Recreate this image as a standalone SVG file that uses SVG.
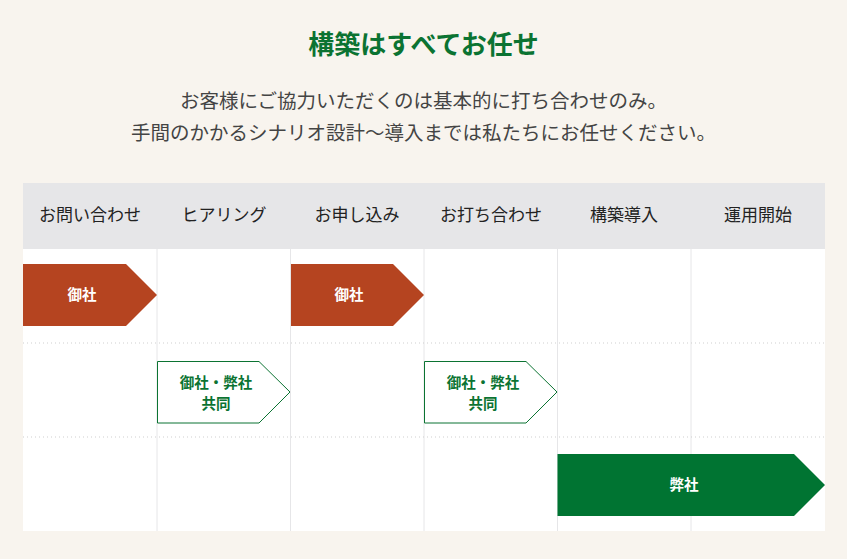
<svg xmlns="http://www.w3.org/2000/svg" width="847" height="559" viewBox="0 0 847 559">
<style>
.t{font-family:"Noto Sans CJK JP","Noto Sans CJK SC",sans-serif;}
.title{font-size:26px;font-weight:bold;fill:#0b7332;text-anchor:middle}
.sub{font-size:19.5px;fill:#444;text-anchor:middle}
.hd{font-size:17px;fill:#222;text-anchor:middle}
.lw{font-size:14.5px;font-weight:bold;fill:#fff;text-anchor:middle}
.lg{font-size:14.5px;font-weight:bold;fill:#0b7332;text-anchor:middle}
.vl{stroke:#e6e6e8;stroke-width:1}
.dl{stroke:#cfcfcf;stroke-width:1;stroke-dasharray:1 3}
</style>
<rect width="847" height="559" fill="#f8f4ee"/>
<text class="t title" x="423.5" y="54">構築はすべてお任せ</text>
<text class="t sub" x="423.5" y="108">お客様にご協力いただくのは基本的に打ち合わせのみ。</text>
<text class="t sub" x="423.5" y="140">手間のかかるシナリオ設計〜導入までは私たちにお任せください。</text>
<g id="table">
<rect x="23" y="183" width="802" height="348" fill="#fff"/>
<rect x="23" y="183" width="802" height="66" fill="#e6e6e8"/>
<g>
<line class="vl" x1="157" y1="249" x2="157" y2="531"/>
<line class="vl" x1="290.5" y1="249" x2="290.5" y2="531"/>
<line class="vl" x1="424" y1="249" x2="424" y2="531"/>
<line class="vl" x1="557.5" y1="249" x2="557.5" y2="531"/>
<line class="vl" x1="691" y1="249" x2="691" y2="531"/>
<line class="dl" x1="23" y1="343" x2="825" y2="343"/>
<line class="dl" x1="23" y1="437" x2="825" y2="437"/>
</g>
<text class="t hd" x="90" y="221">お問い合わせ</text>
<text class="t hd" x="224" y="221">ヒアリング</text>
<text class="t hd" x="357" y="221">お申し込み</text>
<text class="t hd" x="491" y="221">お打ち合わせ</text>
<text class="t hd" x="624" y="221">構築導入</text>
<text class="t hd" x="758" y="221">運用開始</text>
</g>
<g id="n1">
<polygon points="23,264 126,264 157,295 126,326 23,326" fill="#b54420"/>
<text class="t lw" x="82" y="300">御社</text>
</g>
<g id="n2">
<polygon points="157.5,361.5 259,361.5 290,392 259,423 157.5,423" fill="#fff" stroke="#0b7332" stroke-width="1"/>
<text class="t lg" x="216" y="388">御社・弊社</text>
<text class="t lg" x="216" y="409">共同</text>
</g>
<g id="n3">
<polygon points="291,264 393,264 424,295 393,326 291,326" fill="#b54420"/>
<text class="t lw" x="349" y="300">御社</text>
</g>
<g id="n4">
<polygon points="424.5,361.5 526,361.5 557,392 526,423 424.5,423" fill="#fff" stroke="#0b7332" stroke-width="1"/>
<text class="t lg" x="483" y="388">御社・弊社</text>
<text class="t lg" x="483" y="409">共同</text>
</g>
<g id="n5">
<polygon points="557.5,454 794,454 825,485 794,516 557.5,516" fill="#007432"/>
<text class="t lw" x="684" y="490">弊社</text>
</g>
<g id="connectors"></g>
</svg>
